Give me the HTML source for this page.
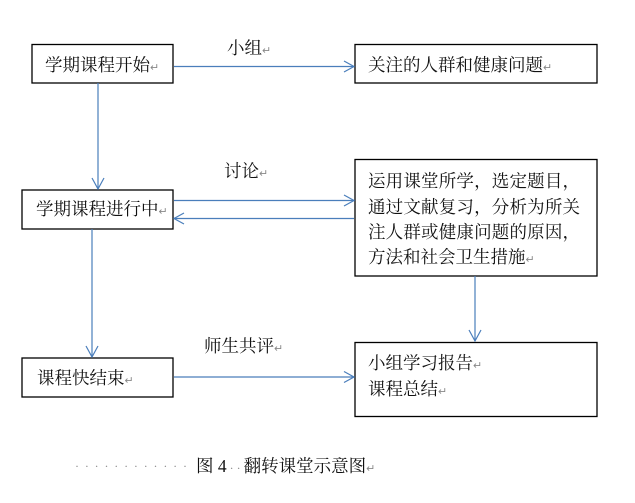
<!DOCTYPE html>
<html><head><meta charset="utf-8"><style>
html,body{margin:0;padding:0;background:#fff;}
svg text{font-family:"Liberation Serif","Noto Serif CJK SC",serif;font-size:17.5px;fill:#111;}
.r{fill:#888;font-size:11px;}
</style></head><body>
<svg width="635" height="498" viewBox="0 0 635 498" xmlns="http://www.w3.org/2000/svg">
<g fill="none" stroke="#000" stroke-width="1.3">
<rect x="32" y="44.5" width="141" height="38.5"/>
<rect x="355" y="44.5" width="242" height="38.5"/>
<rect x="22" y="190" width="151" height="39"/>
<rect x="355" y="159.5" width="242" height="116.5"/>
<rect x="22" y="358" width="151" height="39"/>
<rect x="355" y="342.5" width="242" height="74"/>
</g>
<g fill="none" stroke="#4a7ebb" stroke-width="1.2">
<line x1="174" y1="66.5" x2="354" y2="66.5"/><polyline points="344,61 354,66.5 344,72"/>
<line x1="98" y1="83" x2="98" y2="189"/><polyline points="92,178 98,189 104,178"/>
<line x1="174" y1="200.5" x2="354" y2="200.5"/><polyline points="344,195 354,200.5 344,206"/>
<line x1="354" y1="218.5" x2="174" y2="218.5"/><polyline points="184,213 174,218.5 184,224"/>
<line x1="92" y1="229" x2="92" y2="357"/><polyline points="86,346 92,357 98,346"/>
<line x1="475" y1="276" x2="475" y2="341"/><polyline points="469,330 475,341 481,330"/>
<line x1="174" y1="377" x2="354" y2="377"/><polyline points="344,371.5 354,377 344,382.5"/>
</g>
<text x="45" y="71">学期课程开始<tspan class="r">↵</tspan></text>
<text x="227" y="54">小组<tspan class="r">↵</tspan></text>
<text x="368" y="71">关注的人群和健康问题<tspan class="r">↵</tspan></text>
<text x="224" y="177">讨论<tspan class="r">↵</tspan></text>
<text x="36" y="215">学期课程进行中<tspan class="r">↵</tspan></text>
<text x="368" y="187" textLength="212">运用课堂所学，选定题目，</text>
<text x="368" y="213" textLength="212">通过文献复习，分析为所关</text>
<text x="368" y="238" textLength="212">注人群或健康问题的原因，</text>
<text x="368" y="263">方法和社会卫生措施<tspan class="r">↵</tspan></text>
<text x="204" y="352">师生共评<tspan class="r">↵</tspan></text>
<text x="37" y="384">课程快结束<tspan class="r">↵</tspan></text>
<text x="368" y="369">小组学习报告<tspan class="r">↵</tspan></text>
<text x="368" y="395">课程总结<tspan class="r">↵</tspan></text>
<text x="75" y="470" style="font-size:12px;fill:#888" textLength="112">· · · · · · · · · · · ·</text>
<text x="196" y="472">图 4<tspan style="font-size:12px;fill:#888"> · · </tspan>翻转课堂示意图<tspan class="r">↵</tspan></text>
</svg>
</body></html>
